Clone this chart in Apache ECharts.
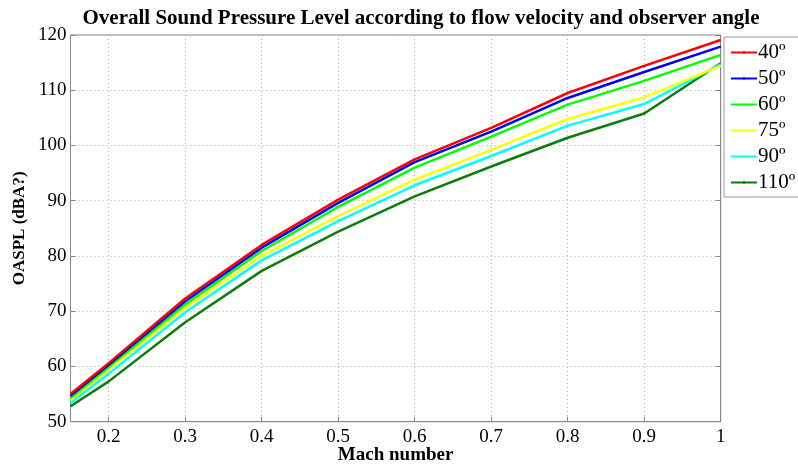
<!DOCTYPE html>
<html>
<head>
<meta charset="utf-8">
<script src="https://cdn.jsdelivr.net/npm/echarts@6/dist/echarts.min.js"></script>
<style>
  html, body { margin: 0; padding: 0; background: #fff; }
  #chart { width: 798px; height: 464px; }
</style>
</head>
<body>
<div id="chart"></div>
<script>
// Mach numbers along x
const mach = [0.15, 0.2, 0.3, 0.4, 0.5, 0.6, 0.7, 0.8, 0.9, 1.0]
const xTicks = [0.2, 0.3, 0.4, 0.5, 0.6, 0.7, 0.8, 0.9, 1.0]

// OASPL per observer angle
const deg40 = [55.0, 60.6, 72.3, 82.0, 90.2, 97.5, 103.2, 109.5, 114.4, 119.1]
const deg50 = [54.7, 60.3, 71.8, 81.5, 89.6, 97.0, 102.5, 108.6, 113.3, 117.9]
const deg60 = [54.3, 59.9, 71.2, 80.9, 88.9, 96.0, 101.6, 107.4, 111.7, 116.4]
const deg75 = [53.9, 59.4, 70.6, 80.0, 87.2, 93.8, 99.2, 104.8, 108.7, 114.4]
const deg90 = [53.4, 58.7, 69.8, 79.2, 86.3, 92.8, 98.1, 103.6, 107.5, 114.7]
const deg110 = [52.8, 57.3, 68.0, 77.3, 84.4, 90.8, 96.2, 101.4, 105.8, 114.9]

const angles = ['40º', '50º', '60º', '75º', '90º', '110º']
const colors = ['#ff0000', '#0000ff', '#00ff00', '#ffff00', '#00ffff', '#0a7d0a']
const values = [deg40, deg50, deg60, deg75, deg90, deg110]

const serif = 'Liberation Serif'

const chart = echarts.init(document.getElementById('chart'))

const series = angles.map((name, i) => ({
  name: name,
  type: 'line',
  symbol: 'none',
  z: 10 - i,
  lineStyle: { color: colors[i], width: 2.5 },
  itemStyle: { color: colors[i] },
  data: mach.map((m, j) => [m, values[i][j]])
}))

const option = {
  animation: false,
  backgroundColor: '#fff',
  title: {
    text: 'Overall Sound Pressure Level according to flow velocity and observer angle',
    left: 416,
    top: 3,
    textAlign: 'center',
    textStyle: { fontFamily: serif, fontSize: 21, fontWeight: 'bold', color: '#000' }
  },
  legend: {
    data: angles,
    orient: 'vertical',
    left: 724,
    top: 37,
    padding: [5, 20, 4, 6],
    itemWidth: 26,
    itemHeight: 3,
    itemGap: 5,
    backgroundColor: '#fff',
    borderColor: '#999',
    borderWidth: 1,
    textStyle: { fontFamily: serif, fontSize: 21, color: '#000', padding: [0, 0, 0, -4] }
  },
  grid: {
    left: 70.5,
    right: 77.3,
    top: 35,
    bottom: 42.3,
    outerBoundsMode: 'none',
    show: true,
    borderColor: '#888',
    borderWidth: 1
  },
  xAxis: {
    type: 'value',
    min: 0.15,
    max: 1,
    name: 'Mach number',
    nameLocation: 'middle',
    nameGap: 24,
    nameMoveOverlap: false,
    nameTextStyle: { fontFamily: serif, fontSize: 19, fontWeight: 'bold', color: '#000' },
    axisLine: { onZero: false, lineStyle: { color: '#888' } },
    axisTick: { inside: true, length: 5, customValues: xTicks, lineStyle: { color: '#888' } },
    axisLabel: {
      customValues: xTicks,
      fontFamily: serif,
      fontSize: 19,
      color: '#000',
      margin: 6,
      formatter: v => (v === 1 ? '1' : v.toFixed(1))
    },
    splitLine: { show: true, lineStyle: { color: '#aaa', type: [1, 3], width: 1 } }
  },
  yAxis: [{
    type: 'value',
    min: 50,
    max: 120,
    interval: 10,
    name: 'OASPL (dBA?)',
    nameLocation: 'middle',
    nameGap: 42,
    nameMoveOverlap: false,
    nameTextStyle: { fontFamily: serif, fontSize: 17, fontWeight: 'bold', color: '#000' },
    axisLine: { show: true, lineStyle: { color: '#888' } },
    axisTick: { show: true, inside: true, length: 5, lineStyle: { color: '#888' } },
    axisLabel: { fontFamily: serif, fontSize: 19, color: '#000', margin: 4 },
    splitLine: { show: true, lineStyle: { color: '#aaa', type: [1, 3], width: 1 } }
  }, {
    type: 'value',
    position: 'right',
    min: 50,
    max: 120,
    interval: 10,
    axisLine: { show: true, lineStyle: { color: '#888' } },
    axisTick: { show: true, inside: true, length: 5, lineStyle: { color: '#888' } },
    axisLabel: { show: false },
    splitLine: { show: false }
  }],
  series: series
}

chart.setOption(option)
</script>
</body>
</html>
